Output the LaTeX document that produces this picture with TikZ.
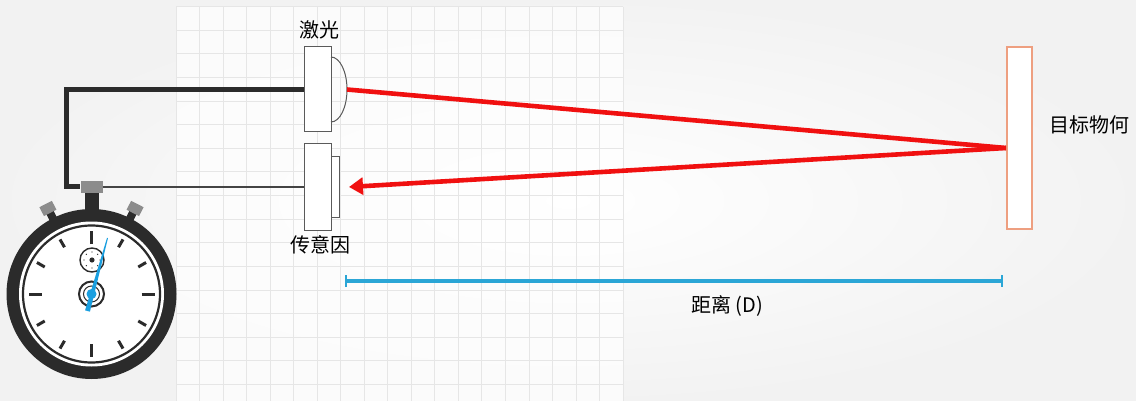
\documentclass[tikz,border=0pt]{standalone}
\usepackage{fontspec}
\setmainfont{Noto Sans CJK SC}
\usetikzlibrary{arrows.meta,calc}
\definecolor{ink}{HTML}{2B2B2B}
\definecolor{wiregray}{HTML}{444444}
\definecolor{crowngray}{HTML}{8C8C8C}
\definecolor{boxline}{HTML}{5A5A5A}
\definecolor{beam}{HTML}{F01010}
\definecolor{dimblue}{HTML}{2BA6D6}
\definecolor{handblue}{HTML}{1A9FE0}
\definecolor{targetline}{HTML}{EE9F80}
\definecolor{gridline}{HTML}{E6E6E6}
\tikzset{
  label/.style={inner sep=0pt, font=\fontsize{20}{24}\selectfont},
  part/.style={draw=boxline, line width=1pt, fill=white, inner sep=0pt},
  thickwire/.style={draw=ink, line width=5pt},
  thinwire/.style={draw=wiregray, line width=2pt},
  ray/.style={draw=beam, line width=4.6pt},
  dimline/.style={draw=dimblue, line width=3.2pt},
}
\begin{document}
\begin{tikzpicture}[x=1pt, y=-1pt]
\useasboundingbox (0,0) rectangle (1136,401);
% paper background
\shade[inner color=white, outer color=black!5] (0,0) rectangle (1136,401);
\fill[white, opacity=0.7] (176,6.7) rectangle (623,401);
% grid
\foreach \i in {0,...,19}
  \draw[gridline, line width=0.8pt] ({176+23.53*\i},6.7) -- ({176+23.53*\i},401);
\foreach \j in {0,...,16}
  \draw[gridline, line width=0.8pt] (176,{6.7+23.6*\j}) -- (623,{6.7+23.6*\j});

% laser emitter and receiver
\node[part, minimum width=27pt, minimum height=85pt] (laser) at (317.5,89.5) {};
\draw[boxline, line width=1pt] (331,57) arc[start angle=-90, end angle=90, x radius=16, y radius=32.5];
\coordinate (lens) at (347,89.5);
\node[part, minimum width=27pt, minimum height=86pt] (sensor) at (317.5,187) {};
\node[part, minimum width=8pt, minimum height=60pt] (window) at (335,187) {};
\node[label] (lasertxt) at (319,30) {激光};
\node[label] (sensortxt) at (320,245) {传意因};

% target
\node[draw=targetline, line width=1.5pt, fill=white, minimum width=25pt, minimum height=182pt, inner sep=0pt] (target) at (1019.5,138) {};
\node[label] (targettxt) at (1089,125) {目标物何};
\coordinate (hit) at (1006,148);
\coordinate (tip) at (349,187);

% beams
\draw[ray] (lens) -- (hit);
\draw[ray, -{Triangle[length=14pt, width=17pt]}] (hit) -- (tip);

% distance
\coordinate (d0) at (345,281);
\coordinate (d1) at (1003,281);
\draw[dimline, {Bar[width=12pt, line width=1.6pt]}-{Bar[width=12pt, line width=1.6pt]}] (d0) -- (d1);
\node[label] (disttxt) at (727,306) {距离 (D)};

% stopwatch
\begin{scope}[shift={(91.5,294)}, yscale=-1]
  % buttons
  \foreach \a in {27,-27} {
    \begin{scope}[rotate=\a]
      \fill[ink] (-4,80) rectangle (4,93);
      \fill[crowngray] (-7,91) rectangle (7,101);
    \end{scope}
  }
  % stem
  \fill[ink] (-7,80) rectangle (7,104);
  % case
  \fill[ink] (0,0) circle[radius=85];
  \fill[white] (0,0) circle[radius=72.5];
  \draw[ink, line width=2.2pt] (0,0) circle[radius=68.5];
  % hour ticks
  \foreach \k in {0,1,...,11} {
    \pgfmathsetmacro{\rin}{mod(\k,3)==0 ? 50 : 54}
    \draw[ink, line width=3pt] (\k*30:\rin) -- (\k*30:63);
  }
  % upper sub-dial
  \draw[ink, line width=1.4pt] (0.5,34) circle[radius=12];
  \foreach \k in {0,1,...,7}
    \fill[ink] ($(0.5,34)+(\k*45:8)$) circle[radius=0.7];
  \fill[ink] (0.5,34) circle[radius=2.6];
  % lower sub-dial
  \draw[ink, line width=2pt] (0,0) circle[radius=12.5];
  \draw[ink, line width=1pt] (0,0) circle[radius=8];
  % hand
  \fill[handblue] (-6.41,-16.34) -- (15.52,56.13) -- (16.48,55.87) -- (-1.59,-17.66) -- cycle;
  \fill[handblue] (0,0) circle[radius=5];
\end{scope}
\node[fill=crowngray, minimum width=22pt, minimum height=12pt, inner sep=0pt] (crown) at (91.5,187) {};

% wiring
\coordinate (bend) at (66.5,89.5);
\draw[thickwire] (laser.west) -- (bend) |- (crown.west);
\draw[thinwire] (crown.east) -- (sensor.west);
\end{tikzpicture}
\end{document}
